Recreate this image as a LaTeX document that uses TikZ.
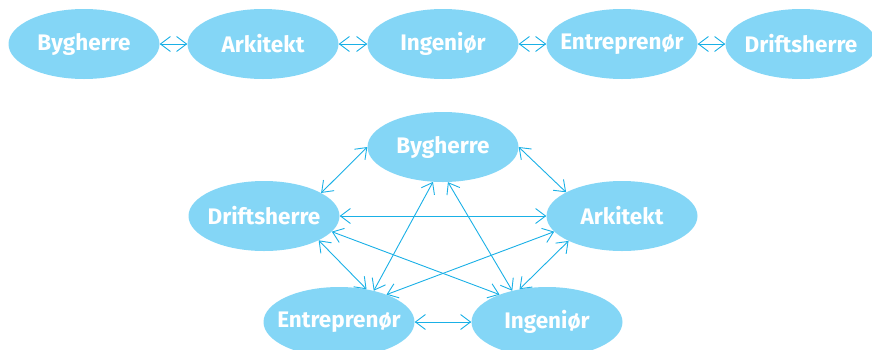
\documentclass[tikz,border=0pt]{standalone}
\usepackage{fontspec}
\setmainfont{Fira Sans}
\usetikzlibrary{arrows.meta, shapes.geometric}
\definecolor{rolefill}{RGB}{132,214,246}
\definecolor{linkcol}{RGB}{26,176,230}

\begin{document}
\begin{tikzpicture}[x=1pt, y=-1pt, >={Straight Barb[length=10pt,width=15pt]}, line cap=round, line join=round]
	\tikzset{
		role/.style={ellipse, fill=rolefill, text=white, inner xsep=-14pt, inner ysep=0pt,
			minimum width=151pt, minimum height=70pt,
			font=\fontsize{22.5}{26}\selectfont\bfseries},
		link/.style={<->, draw=linkcol, line width=0.9pt}
	}
	\useasboundingbox (0,0) rectangle (872,349);
	
	% chain of roles
	\node[role] (cBy) at (84,44)  {Bygherre};
	\node[role] (cAr) at (263,44) {Arkitekt};
	\node[role] (cIn) at (443,44) {Ingeniør};
	\node[role] (cEn) at (622,44) {Entreprenør};
	\node[role] (cDr) at (801,44) {Driftsherre};
	
	\draw[link] (cBy.east) -- (cAr.west);
	\draw[link] (cAr.east) -- (cIn.west);
	\draw[link] (cIn.east) -- (cEn.west);
	\draw[link] (cEn.east) -- (cDr.west);
	
	% network of roles
	\node[role] (nBy) at (443,147) {Bygherre};
	\node[role] (nDr) at (264,216) {Driftsherre};
	\node[role] (nAr) at (622,216) {Arkitekt};
	\node[role] (nEn) at (339,322) {Entreprenør};
	\node[role] (nIn) at (547,322) {Ingeniør};
	
	\draw[link] (nDr.22)   -- (nBy.180);
	\draw[link] (nBy.0)    -- (nAr.157);
	\draw[link] (nDr.0)    -- (nAr.180);
	\draw[link] (nDr.-24)  -- (nEn.50);
	\draw[link] (nDr.-13)  -- (nIn.150);
	\draw[link] (nAr.-167) -- (nEn.30);
	\draw[link] (nAr.-155) -- (nIn.130);
	\draw[link] (nBy.-106) -- (nEn.42);
	\draw[link] (nBy.-82)  -- (nIn.138);
	\draw[link] (nEn.0)    -- (nIn.180);
	
\end{tikzpicture}
\end{document}
